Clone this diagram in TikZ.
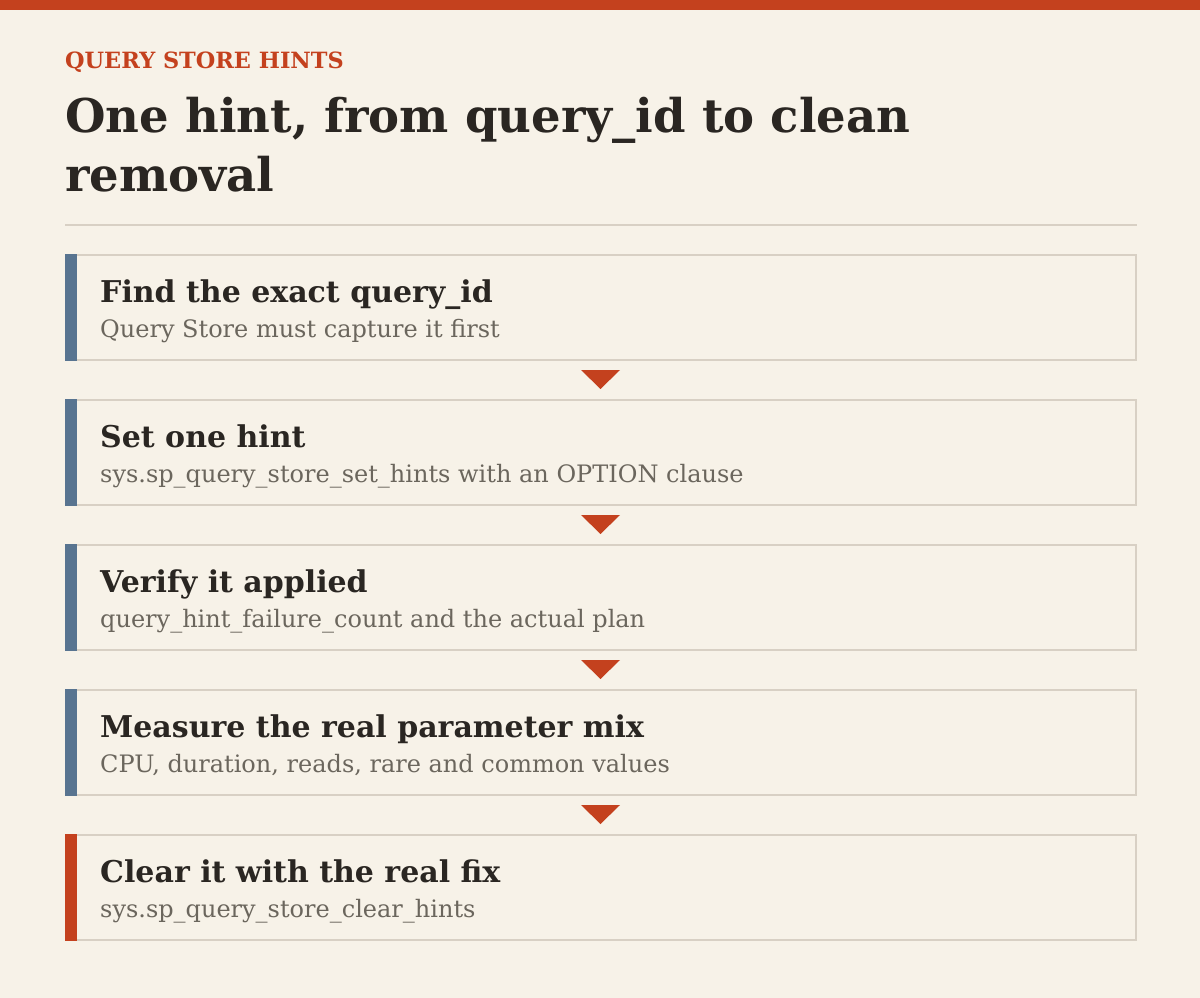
\documentclass[tikz,border=0pt]{standalone}
\usepackage{fontspec}
\setmainfont{DejaVu Serif}
\definecolor{bg}{HTML}{F7F2E8}
\definecolor{rust}{HTML}{C4411E}
\definecolor{slate}{HTML}{587490}
\definecolor{rule}{HTML}{D8D0C4}
\definecolor{ink}{HTML}{2A2622}
\definecolor{muted}{HTML}{6B665D}
\tikzset{
  stepbox/.style={draw=rule, line width=2pt, fill=bg},
  accent/.style={fill=#1, draw=none},
  steptitle/.style={anchor=base west, inner sep=0pt, text=ink, font=\fontsize{30}{34}\selectfont\bfseries},
  stepsub/.style={anchor=base west, inner sep=0pt, text=muted, font=\fontsize{24}{28}\selectfont},
  headline/.style={anchor=base west, inner sep=0pt, text=ink, font=\fontsize{46.5}{59}\selectfont\bfseries},
  tri/.style={fill=rust, draw=none}
}
\begin{document}
\begin{tikzpicture}[x=1pt,y=-1pt]
\useasboundingbox (0,0) rectangle (1200,998);
\fill[bg] (0,0) rectangle (1200,998);
\fill[rust] (0,0) rectangle (1200,10);
\node[anchor=base west, inner sep=0pt, text=rust, font=\fontsize{22.4}{26}\selectfont\bfseries] (kicker) at (65,69) {QUERY STORE HINTS};
\node[headline] (title1) at (65,132) {One hint, from query\_id to clean};
\node[headline] (title2) at (65,191) {removal};
\draw[rule, line width=1.5pt] (65,225) -- (1137,225);
\foreach \i/\t/\s/\c in {0/{Find the exact query\_id}/{Query Store must capture it first}/slate,
                         1/{Set one hint}/{sys.sp\_query\_store\_set\_hints with an OPTION clause}/slate,
                         2/{Verify it applied}/{query\_hint\_failure\_count and the actual plan}/slate,
                         3/{Measure the real parameter mix}/{CPU, duration, reads, rare and common values}/slate,
                         4/{Clear it with the real fix}/{sys.sp\_query\_store\_clear\_hints}/rust} {
  \pgfmathsetmacro{\yt}{255+145*\i}
  \draw[stepbox] (66,\yt) rectangle (1136,\yt+105);
  \fill[accent=\c] (65,\yt-1) rectangle (77,\yt+106);
  \node[steptitle] (t\i) at (100,\yt+47) {\t};
  \node[stepsub] (s\i) at (100,\yt+82) {\s};
}
\foreach \i in {0,1,2,3} {
  \pgfmathsetmacro{\yb}{370+145*\i}
  \fill[tri] (581,\yb) -- (620,\yb) -- (600.5,\yb+19) -- cycle;
}
\end{tikzpicture}
\end{document}
